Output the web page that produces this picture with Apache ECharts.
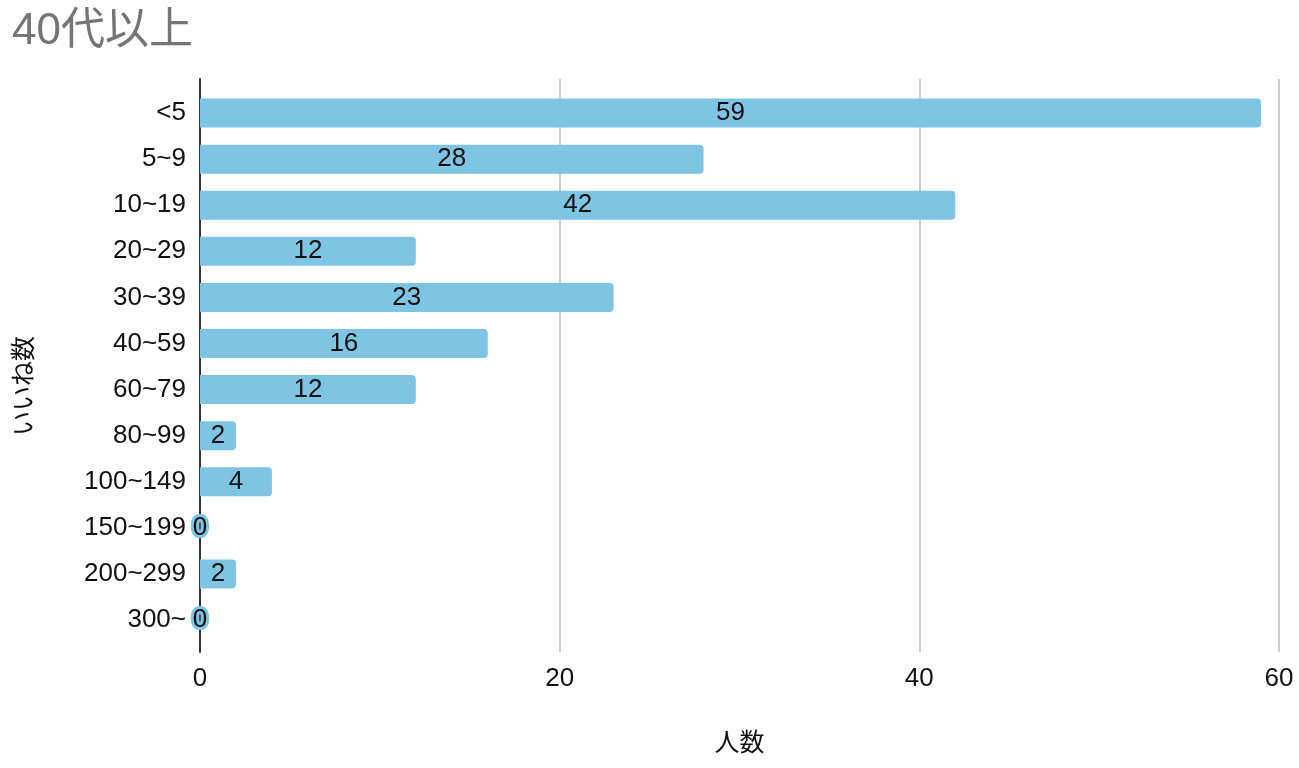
<!DOCTYPE html>
<html>
<head>
<meta charset="utf-8">
<script src="https://cdn.jsdelivr.net/npm/echarts@6/dist/echarts.min.js"></script>
<style>html,body{margin:0;padding:0;background:#fff;}#c{width:1299px;height:768px;}</style>
</head>
<body>
<div id="c"></div>
<script>
const titleText = '40代以上';
const categories = ['<5','5~9','10~19','20~29','30~39','40~59','60~79','80~99','100~149','150~199','200~299','300~'];
const values = [59,28,42,12,23,16,12,2,4,0,2,0];
const xTicks = { min: 0, max: 60, interval: 20 };
const xName = '人数';
const yName = 'いいね数';

const FONT = '"Liberation Sans", Arial, "Noto Sans CJK JP", sans-serif';
const BAR = '#7ec4e3';

const chart = echarts.init(document.getElementById('c'));
chart.setOption({
  animation: false,
  title: {
    text: titleText, left: 7, top: 5,
    textStyle: { color: '#757575', fontSize: 44, fontWeight: 'normal', fontFamily: FONT }
  },
  graphic: [{
    type: 'text', x: 25, y: 386, rotation: Math.PI / 2,
    style: { text: yName, fill: '#111', font: '25px ' + FONT, textAlign: 'center', textVerticalAlign: 'middle' }
  }],
  grid: [
    { left: 200, right: 20, top: 90, height: 553 },
    { left: 200, right: 20, top: 79, height: 573 }
  ],
  xAxis: [
    { gridIndex: 0, type: 'value', min: xTicks.min, max: xTicks.max, interval: xTicks.interval, show: false },
    { gridIndex: 1, type: 'value', min: xTicks.min, max: xTicks.max, interval: xTicks.interval,
      name: xName, nameLocation: 'middle', nameGap: 80,
      nameTextStyle: { color: '#111', fontSize: 25, fontFamily: FONT },
      axisLine: { show: false }, axisTick: { show: false },
      axisLabel: { color: '#111', fontSize: 26, fontFamily: FONT, margin: 14 },
      splitLine: { show: true, lineStyle: { color: '#cccccc', width: 2 } } }
  ],
  yAxis: [
    { gridIndex: 0, type: 'category', data: categories, inverse: true,
      axisLine: { show: false }, axisTick: { show: false },
      axisLabel: { color: '#111', fontSize: 26, fontFamily: FONT, margin: 14 } },
    { gridIndex: 1, type: 'category', data: categories, inverse: true,
      axisLine: { show: true, lineStyle: { color: '#333', width: 2 } },
      axisTick: { show: false }, axisLabel: { show: false }, splitLine: { show: false } }
  ],
  series: [{
    type: 'bar', xAxisIndex: 0, yAxisIndex: 0, data: values, barWidth: 29,
    itemStyle: { color: BAR, borderRadius: [0, 4, 4, 0] },
    label: { show: true, position: 'inside', color: '#111', fontSize: 26, fontFamily: FONT,
      textBorderColor: BAR, textBorderWidth: 6 }
  }]
});
</script>
</body>
</html>
